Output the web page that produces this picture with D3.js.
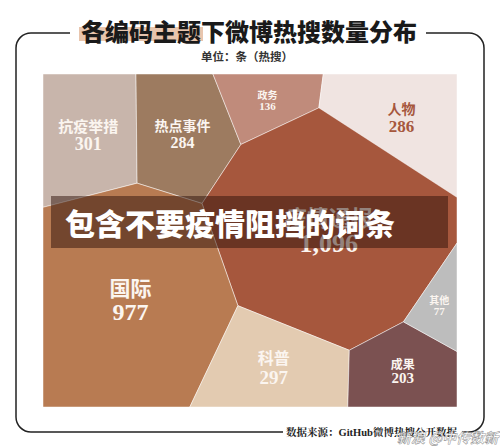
<!DOCTYPE html>
<html>
<head>
<meta charset="utf-8">
<script src="https://cdn.jsdelivr.net/npm/d3@7"></script>
<style>
  html, body { margin: 0; padding: 0; background: #ffffff; }
  svg { display: block; }
</style>
</head>
<body>
<script>
// ---------------- data ----------------
const categories = ["抗疫举措", "热点事件", "政务", "人物", "疫情通报", "国际", "科普", "成果", "其他"];
const values     = [301, 284, 136, 286, 1096, 977, 297, 203, 77];
// layout hints: initial site positions for the Voronoi treemap (0..1 of the chart area)
const seedX = [0.111, 0.343, 0.572, 0.874, 0.705, 0.198, 0.585, 0.874, 0.957];
const seedY = [0.174, 0.177, 0.069, 0.123, 0.483, 0.694, 0.889, 0.889, 0.700];

// ---------------- styles ----------------
const cellColors  = ["#c8b5ab", "#9d7b60", "#c08b7b", "#f0e4e1", "#a6573d", "#b87b52", "#e3cbb1", "#7b5151", "#bdbdbd"];
const labelColors = ["#fbf5f0", "#fbf5f0", "#fbf5f0", "#a6573d", "#fbf5f0", "#fbf5f0", "#fbf5f0", "#fbf5f0", "#fbf5f0"];
const nameSizes   = [15, 14, 10, 14, 22, 21, 16, 12, 10];
const valueSizes  = [18, 16, 11, 17, 26, 24, 19, 15, 11];

const W = 500, H = 446;
const svg = d3.select("body").append("svg").attr("width", W).attr("height", H);
svg.append("rect").attr("width", W).attr("height", H).attr("fill", "#ffffff");

const x = d3.scaleLinear().domain([0, 1]).range([43, 457]);
const y = d3.scaleLinear().domain([0, 1]).range([74, 407]);
const x0 = x(0), x1 = x(1), y0 = y(0), y1 = y(1);

// ---------------- Voronoi treemap (power diagram + weight adaptation) ----------------
const n = values.length;
const total = d3.sum(values);
const fullArea = (x1 - x0) * (y1 - y0);
const target = values.map(v => v / total * fullArea);
let sites = values.map((v, i) => [x(seedX[i]), y(seedY[i])]);
let weights = values.map(() => 0);

function clip(poly, a0, a1, b, label) {
  const out = [];
  for (let k = 0; k < poly.length; k++) {
    const P = poly[k], Q = poly[(k + 1) % poly.length];
    const fp = a0 * P.x + a1 * P.y - b, fq = a0 * Q.x + a1 * Q.y - b;
    const inP = fp <= 0, inQ = fq <= 0;
    if (inP) out.push({x: P.x, y: P.y, e: P.e});
    if (inP !== inQ) {
      const t = fp / (fp - fq);
      const I = {x: P.x + t * (Q.x - P.x), y: P.y + t * (Q.y - P.y)};
      I.e = inP ? label : P.e;
      if (inP) out[out.length - 1].e = P.e;
      out.push(I);
    }
  }
  return out;
}

function computeCells() {
  const cells = [];
  for (let i = 0; i < n; i++) {
    let poly = [
      {x: x0, y: y0, e: -1}, {x: x1, y: y0, e: -1},
      {x: x1, y: y1, e: -1}, {x: x0, y: y1, e: -1}
    ];
    const [sx, sy] = sites[i];
    for (let j = 0; j < n && poly.length >= 3; j++) {
      if (j === i) continue;
      const [tx, ty] = sites[j];
      const a0 = 2 * (tx - sx), a1 = 2 * (ty - sy);
      const b = (tx * tx + ty * ty) - (sx * sx + sy * sy) - weights[j] + weights[i];
      poly = clip(poly, a0, a1, b, j);
    }
    cells.push(poly);
  }
  return cells;
}

for (let it = 0; it < 400; it++) {
  const cells = computeCells();
  for (let i = 0; i < n; i++) {
    const poly = cells[i];
    if (poly.length < 3) { weights[i] += 200; continue; }
    const pts = poly.map(p => [p.x, p.y]);
    const area = Math.abs(d3.polygonArea(pts));
    let J = 0;
    for (let k = 0; k < poly.length; k++) {
      const P = poly[k], Q = poly[(k + 1) % poly.length];
      if (P.e >= 0) {
        const len = Math.hypot(Q.x - P.x, Q.y - P.y);
        const d = Math.hypot(sites[P.e][0] - sites[i][0], sites[P.e][1] - sites[i][1]);
        J += len / (2 * d);
      }
    }
    if (J > 0) weights[i] += 0.5 * (target[i] - area) / J;
    if (it < 300) {
      const c = d3.polygonCentroid(pts);
      sites[i] = [sites[i][0] + 0.5 * (c[0] - sites[i][0]), sites[i][1] + 0.5 * (c[1] - sites[i][1])];
    }
  }
}
const cells = computeCells().map(poly => poly.map(p => [p.x, p.y]));

// ---------------- draw cells ----------------
const line = d3.line().curve(d3.curveLinearClosed);
svg.append("g").selectAll("path")
  .data(cells)
  .join("path")
  .attr("d", d => line(d))
  .attr("fill", (d, i) => cellColors[i])
  .attr("stroke", "rgba(255,255,255,0.6)")
  .attr("stroke-width", 0.8);

const serif = "'Liberation Serif','Noto Serif CJK SC','Noto Sans CJK SC',serif";
const lab = svg.append("g").selectAll("g")
  .data(cells)
  .join("g")
  .attr("transform", d => { const c = d3.polygonCentroid(d); return `translate(${c[0]},${c[1]})`; });
lab.append("text")
  .attr("text-anchor", "middle")
  .attr("dominant-baseline", "central")
  .attr("y", (d, i) => -valueSizes[i] * 0.55)
  .attr("font-family", "'Noto Sans CJK SC',sans-serif")
  .attr("font-weight", 700)
  .attr("font-size", (d, i) => nameSizes[i])
  .attr("fill", (d, i) => labelColors[i])
  .text((d, i) => categories[i]);
lab.append("text")
  .attr("text-anchor", "middle")
  .attr("dominant-baseline", "central")
  .attr("y", (d, i) => nameSizes[i] * 0.6)
  .attr("font-family", serif)
  .attr("font-weight", 700)
  .attr("font-size", (d, i) => valueSizes[i])
  .attr("fill", (d, i) => labelColors[i])
  .text((d, i) => d3.format(",")(values[i]));

// ---------------- frame ----------------
const r = 15;
const left = d3.path();
left.moveTo(70, 33); left.lineTo(16 + r, 33); left.arcTo(16, 33, 16, 33 + r, r);
left.lineTo(16, 432 - r); left.arcTo(16, 432, 16 + r, 432, r); left.lineTo(283, 432);
const right = d3.path();
right.moveTo(426, 33); right.lineTo(484 - r, 33); right.arcTo(484, 33, 484, 33 + r, r);
right.lineTo(484, 432 - r); right.arcTo(484, 432, 484 - r, 432, r); right.lineTo(462, 432);
svg.append("path").attr("d", left.toString()).attr("fill", "none").attr("stroke", "#222").attr("stroke-width", 1.5);
svg.append("path").attr("d", right.toString()).attr("fill", "none").attr("stroke", "#222").attr("stroke-width", 1.5);

// ---------------- title ----------------
svg.append("rect").attr("x", 79).attr("y", 27).attr("width", 124).attr("height", 14).attr("fill", "#e8c5ad");
svg.append("text")
  .attr("x", 249).attr("y", 30)
  .attr("text-anchor", "middle").attr("dominant-baseline", "central")
  .attr("font-family", "'Noto Sans CJK SC',sans-serif").attr("font-weight", 900)
  .attr("font-size", 24).attr("fill", "#1a1a1a")
  .text("各编码主题下微博热搜数量分布");
svg.append("text")
  .attr("x", 247).attr("y", 56)
  .attr("text-anchor", "middle").attr("dominant-baseline", "central")
  .attr("font-family", "'Noto Sans CJK SC',sans-serif").attr("font-weight", 700)
  .attr("font-size", 11.5).attr("fill", "#333")
  .text("单位：条（热搜）");

// ---------------- source ----------------
svg.append("text")
  .attr("x", 286).attr("y", 432)
  .attr("dominant-baseline", "central")
  .attr("font-family", serif).attr("font-weight", 700)
  .attr("font-size", 10.5).attr("fill", "#222")
  .text("数据来源：GitHub微博热搜公开数据");

// ---------------- overlay banner ----------------
svg.append("rect").attr("x", 51).attr("y", 196).attr("width", 397).attr("height", 52)
  .attr("fill", "rgb(45,18,10)").attr("fill-opacity", 0.5);
svg.append("text")
  .attr("x", 65).attr("y", 222)
  .attr("dominant-baseline", "central")
  .attr("font-family", "'Noto Sans CJK SC',sans-serif").attr("font-weight", 900)
  .attr("font-size", 30).attr("fill", "#ffffff")
  .text("包含不要疫情阻挡的词条");

// ---------------- watermark ----------------
svg.append("text")
  .attr("x", 397).attr("y", 437)
  .attr("dominant-baseline", "central")
  .attr("font-family", "'Noto Sans CJK SC',sans-serif").attr("font-style", "italic").attr("font-weight", 700)
  .attr("font-size", 14).attr("fill", "rgba(255,255,255,0.85)")
  .attr("stroke", "rgba(110,110,110,0.7)").attr("stroke-width", 0.6)
  .text("新浪 @中传数新");
</script>
</body>
</html>
